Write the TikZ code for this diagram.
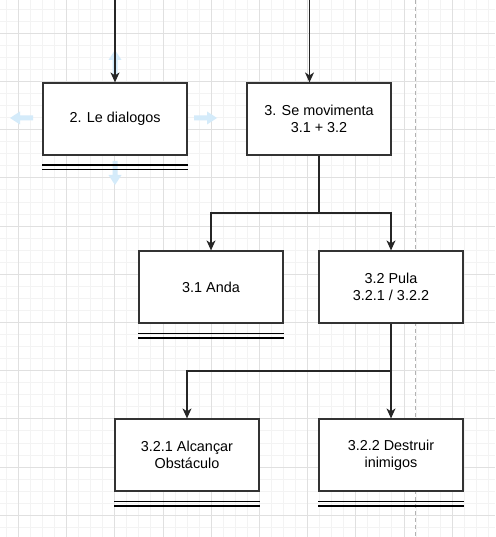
\documentclass[tikz,border=0pt]{standalone}
\usepackage{fontspec}
\setmainfont{Liberation Sans}
\usetikzlibrary{arrows.meta}
\definecolor{gridmajor}{RGB}{224,224,224}
\definecolor{gridminor}{RGB}{243,243,243}
\definecolor{boxline}{RGB}{51,51,51}
\definecolor{hoverblue}{RGB}{212,235,250}
\tikzset{
  stepbox/.style={draw=boxline, line width=1.2pt, fill=white, minimum width=144pt, minimum height=72pt,
    inner sep=0pt, align=center, font=\fontsize{14.4}{17.3}\selectfont},
  conn/.style={draw=black!85, line width=1.2pt, -{Stealth[length=10pt,width=9pt,inset=3pt]}},
  plainconn/.style={draw=black!85, line width=1.2pt},
  dbl/.style={draw=black, line width=1.2pt},
  hoverarrow/.style={fill=hoverblue, draw=none},
}
\begin{document}
\begin{tikzpicture}[x=1pt,y=-1pt]
\useasboundingbox (0,0) rectangle (495,537);
\fill[white] (0,0) rectangle (495,537);
% minor grid
\foreach \i in {0,...,41} {
  \draw[gridminor, line width=0.8pt] ({6.25+12.05*\i},0) -- ({6.25+12.05*\i},537);
}
\foreach \j in {0,...,44} {
  \draw[gridminor, line width=0.8pt] (0,{9.1+12.05*\j}) -- (495,{9.1+12.05*\j});
}
% major grid
\foreach \i in {0,...,10} {
  \draw[gridmajor, line width=0.8pt] ({18.3+48.2*\i},0) -- ({18.3+48.2*\i},537);
}
\foreach \j in {0,...,10} {
  \draw[gridmajor, line width=0.8pt] (0,{33.2+48.2*\j}) -- (495,{33.2+48.2*\j});
}
% dashed page break line
\draw[gray!60, line width=0.8pt, dash pattern=on 4pt off 3pt] (415.5,0) -- (415.5,537);

% hover arrows
\path[hoverarrow] (115,50) -- (121.5,60) -- (117.5,60) -- (117.5,75) -- (112.5,75) -- (112.5,60) -- (108.5,60) -- cycle;
\path[hoverarrow] (115,185) -- (121.5,175) -- (117.5,175) -- (117.5,161) -- (112.5,161) -- (112.5,175) -- (108.5,175) -- cycle;
\path[hoverarrow] (10,118) -- (20,111.5) -- (20,115.5) -- (33,115.5) -- (33,120.5) -- (20,120.5) -- (20,124.5) -- cycle;
\path[hoverarrow] (217,118) -- (207,111.5) -- (207,115.5) -- (194,115.5) -- (194,120.5) -- (207,120.5) -- (207,124.5) -- cycle;

% boxes
\node[stepbox] (b2) at (115,119) {2. Le dialogos};
\node[stepbox] (b3) at (319,119) {3. Se movimenta\\3.1 + 3.2};
\node[stepbox] (b31) at (211,287) {3.1 Anda};
\node[stepbox] (b32) at (391,287) {3.2 Pula\\3.2.1 / 3.2.2};
\node[stepbox] (b321) at (187,455) {3.2.1 Alcançar\\Obstáculo};
\node[stepbox] (b322) at (391,455) {3.2.2 Destruir\\inimigos};

% double lines under boxes
\foreach \b in {b2,b31,b321,b322} {
  \draw[dbl] ([yshift=-9.5pt]\b.south west) -- ([yshift=-9.5pt]\b.south east);
  \draw[dbl] ([yshift=-14.3pt]\b.south west) -- ([yshift=-14.3pt]\b.south east);
}

% incoming connectors from above
\coordinate (in2) at (115,0);
\coordinate (in3) at (309.5,0);
\draw[conn] (in2) -- (b2.north);
\draw[conn] (in3) -- (in3 |- b3.north);

% branches
\coordinate (j3) at (319,213);
\draw[plainconn] (b3.south) -- (j3);
\draw[conn] (j3) -| (b31.north);
\draw[conn] (j3) -| (b32.north);

\coordinate (j32) at (391,371);
\draw[conn] (b32.south) -- (b322.north);
\draw[conn] (j32) -| (b321.north);
\end{tikzpicture}
\end{document}
